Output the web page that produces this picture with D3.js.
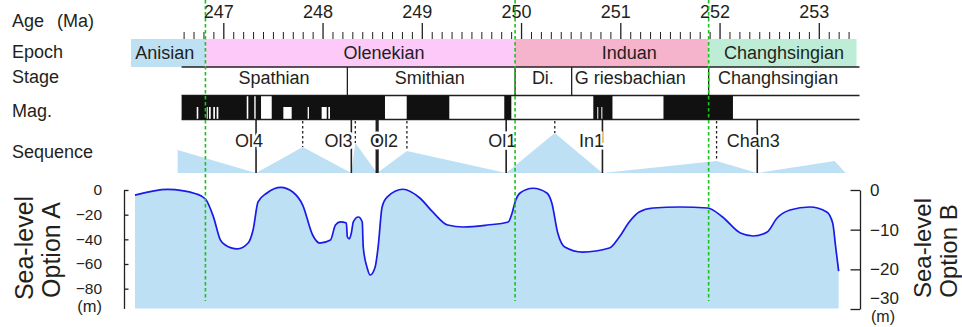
<!DOCTYPE html>
<html>
<head>
<meta charset="utf-8">
<script src="https://cdn.jsdelivr.net/npm/d3@7"></script>
<style>
  html, body { margin: 0; padding: 0; background: #fff; }
  svg { display: block; font-family: "Liberation Sans", Arial, Helvetica, sans-serif; }
</style>
</head>
<body>
<svg id="chart" width="962" height="327"></svg>
<script>
// ---- Time scale (Ma) ----
const ageMajorTicks = [247, 248, 249, 250, 251, 252, 253];
const ageMinorTicks = d3.range(2466, 2534).map(d => d / 10).filter(d => !Number.isInteger(d));

// ---- Epoch / stage bands ----
const epochNames  = ["Anisian", "Olenekian", "Induan", "Changhsingian"];
const epochStart  = [246.07, 246.82, 249.94, 251.89];
const epochEnd    = [246.82, 249.94, 251.89, 253.38];
const epochLabelAt = [246.41, 248.62, 251.09, 252.65];
const epochColors = ["#bde0f2", "#fdc9f8", "#f5b4cb", "#bdedd6"];

const stageNames  = ["Spathian", "Smithian", "Di.", "G riesbachian", "Changhsingian"];
const stageBounds = [248.25, 249.94, 250.51, 251.89];
const stageLabelAt = [247.51, 249.08, 250.22, 251.10, 252.59];
const columnExtent = [246.58, 253.41];

// ---- Magnetostratigraphy: normal polarity chrons and short reversed events ----
const normalChrons = [
  [246.58, 247.236], [247.252, 247.312], [247.326, 247.380], [247.488, 248.629],
  [248.848, 249.277], [249.831, 249.902], [250.728, 250.921], [251.435, 252.135]
];
const shortReversals = [
  [246.732, 246.748], [246.833, 246.843], [246.856, 246.873], [246.899, 246.916],
  [246.933, 246.950], [247.605, 247.689], [247.850, 247.863], [247.991, 248.042],
  [248.058, 248.075], [250.768, 250.775], [250.809, 250.816]
];

// ---- Sequence stratigraphy (relative accommodation triangles) ----
const seqAge = [246.54, 247.33, 247.80, 248.29, 248.33, 248.55, 248.85, 249.85, 250.34, 250.82, 251.97, 252.38, 253.16, 253.27];
const seqAmp = [0.575, 0, 0.65, 0, 0.75, 0, 0.55, 0, 1.0, 0, 0.30, 0, 0.30, 0];
const seqBoundaries = [247.33, 248.29, 249.85, 250.82, 252.38];
const seqMajorBoundary = [248.55];
const floodingSurfaces = [247.80, 248.33, 248.85, 250.34, 251.97];
const seqNames = ["Ol4", "Ol3", "Ol2", "Ol1", "In1", "Chan3"];
const seqLabelAt = [247.26, 248.16, 248.62, 249.81, 250.71, 252.34];

// ---- Epoch boundaries (dashed guides) ----
const guideAges = [246.82, 249.94, 251.89];

// ---- Sea-level curve (Option A, m) ----
const seaAge = [246.11, 246.44, 246.73, 246.82, 246.90, 246.97, 247.02, 247.14, 247.25, 247.30,
  247.35, 247.44, 247.58, 247.70, 247.80, 247.90, 247.97, 248.08, 248.13, 248.18,
  248.24, 248.25, 248.27, 248.29, 248.31, 248.36, 248.40, 248.41, 248.45, 248.48,
  248.53, 248.56, 248.60, 248.65, 248.81, 248.98, 249.11, 249.26, 249.42, 249.66,
  249.87, 249.91, 249.94, 249.99, 250.12, 250.26, 250.31, 250.37, 250.44, 250.62,
  250.89, 250.99, 251.09, 251.19, 251.33, 251.60, 251.88, 252.03, 252.21, 252.34,
  252.48, 252.58, 252.71, 252.91, 253.08, 253.14, 253.17, 253.20];
const seaLevelA = [-4.1, 0.5, -3.2, -7.3, -21.6, -40.5, -44.6, -47.8, -43.0, -32.4,
  -9.7, -2.4, 2.2, -1.6, -12.2, -36.5, -43.0, -40.5, -28.4, -25.9,
  -26.8, -38.1, -39.7, -34.9, -25.9, -21.9, -25.9, -46.2, -63.2, -68.9,
  -62.4, -46.2, -13.8, -5.7, 0.6, -6.5, -17.8, -28.4, -30.0, -28.4,
  -25.9, -18.6, -9.7, -2.4, 1.4, -2.4, -10.5, -34.9, -46.2, -50.3,
  -47.0, -38.1, -25.9, -17.8, -14.6, -13.8, -14.6, -21.9, -34.9, -37.3,
  -34.1, -22.7, -16.2, -13.8, -17.8, -26.8, -46.2, -65.7];
const ticksA = [0, -20, -40, -60, -80];
const ticksB = [0, -10, -20, -30];

// ---- Layout ----
const ink = "#231f20";
const svg = d3.select("#chart");
svg.append("rect").attr("width", 962).attr("height", 327).attr("fill", "#fff");

const x = d3.scaleLinear().domain([247, 253]).range([223.3, 818.8]);
const yA = d3.scaleLinear().domain([0, -96]).range([190, 308.4]);
const yB = d3.scaleLinear().domain([0, -30]).range([190, 309]);
const ySeq = d3.scaleLinear().domain([0, 1]).range([173, 133]);

const band = { top: 39, mid: 67, magTop: 95.5, magBot: 119.5 };

// Row titles
const titles = svg.append("g").attr("fill", ink).attr("font-size", 18);
const ageTitle = titles.append("text").attr("x", 12).attr("y", 27);
ageTitle.append("tspan").text("Age");
ageTitle.append("tspan").attr("x", 57).text("(Ma)");
titles.append("text").attr("x", 12).attr("y", 58).text("Epoch");
titles.append("text").attr("x", 12).attr("y", 83).text("Stage");
titles.append("text").attr("x", 12).attr("y", 117).text("Mag.");
titles.append("text").attr("x", 12).attr("y", 158).text("Sequence");

// Age axis
const axMajor = svg.append("g").attr("transform", `translate(0,${band.top})`)
  .call(d3.axisTop(x).tickValues(ageMajorTicks).tickSize(16).tickPadding(5).tickFormat(d3.format("d")));
axMajor.select(".domain").remove();
axMajor.selectAll("line").attr("stroke", ink).attr("stroke-width", 1.3);
axMajor.selectAll("text").attr("font-size", 18).attr("fill", ink).attr("font-family", null).attr("x", -5);
const axMinor = svg.append("g").attr("transform", `translate(0,${band.top})`)
  .call(d3.axisTop(x).tickValues(ageMinorTicks).tickSize(7).tickFormat(""));
axMinor.select(".domain").remove();
axMinor.selectAll("line").attr("stroke", ink).attr("stroke-width", 1);

// Epoch bands
const epochs = epochNames.map((n, i) => ({ name: n, s: epochStart[i], e: epochEnd[i], at: epochLabelAt[i], c: epochColors[i] }));
svg.append("g").selectAll("rect").data(epochs).join("rect")
  .attr("x", d => x(d.s)).attr("width", d => x(d.e) - x(d.s))
  .attr("y", band.top).attr("height", band.mid - band.top)
  .attr("fill", d => d.c);
svg.append("g").attr("font-size", 18).attr("fill", ink).attr("text-anchor", "middle")
  .selectAll("text").data(epochs).join("text")
  .attr("x", d => x(d.at)).attr("y", 59).text(d => d.name);

// Stage row
svg.append("g").attr("stroke", ink).attr("stroke-width", 1.3)
  .selectAll("line").data([band.mid, band.magTop, band.magBot]).join("line")
  .attr("x1", x(columnExtent[0])).attr("x2", x(columnExtent[1]))
  .attr("y1", d => d).attr("y2", d => d);
svg.append("g").attr("stroke", ink).attr("stroke-width", 1.3)
  .selectAll("line").data(stageBounds).join("line")
  .attr("x1", d => x(d)).attr("x2", d => x(d)).attr("y1", band.mid).attr("y2", band.magTop);
svg.append("g").attr("font-size", 18).attr("fill", ink).attr("text-anchor", "middle")
  .selectAll("text").data(stageNames).join("text")
  .attr("x", (d, i) => x(stageLabelAt[i])).attr("y", 84).text(d => d);

// Magnetic polarity
svg.append("g").selectAll("rect").data(normalChrons).join("rect")
  .attr("x", d => x(d[0])).attr("width", d => x(d[1]) - x(d[0]))
  .attr("y", band.magTop).attr("height", band.magBot - band.magTop)
  .attr("fill", "#111");
svg.append("g").selectAll("rect").data(shortReversals).join("rect")
  .attr("x", d => x(d[0])).attr("width", d => Math.max(1, x(d[1]) - x(d[0])))
  .attr("y", 107).attr("height", band.magBot - 107 - 0.7)
  .attr("fill", "#fff");

// Sequence triangles
const seqPts = seqAge.map((a, i) => [x(a), ySeq(seqAmp[i])]);
const poly = [[x(seqAge[0]), ySeq(0)], ...seqPts];
svg.append("path").attr("d", d3.line()(poly) + "Z").attr("fill", "#bde0f5");

// Sequence boundaries and maximum flooding surfaces
const seqG = svg.append("g").attr("stroke", ink);
seqG.selectAll(".sb").data(seqBoundaries).join("line").attr("class", "sb")
  .attr("x1", d => x(d)).attr("x2", d => x(d)).attr("y1", 120).attr("y2", ySeq(0))
  .attr("stroke-width", 1.6);
seqG.selectAll(".msb").data(seqMajorBoundary).join("line").attr("class", "msb")
  .attr("x1", d => x(d)).attr("x2", d => x(d)).attr("y1", 120).attr("y2", ySeq(0))
  .attr("stroke-width", 3.2);
seqG.selectAll(".mfs").data(floodingSurfaces).join("line").attr("class", "mfs")
  .attr("x1", d => x(d)).attr("x2", d => x(d)).attr("y1", 121)
  .attr("y2", d => ySeq(seqAmp[seqAge.indexOf(d)]))
  .attr("stroke-width", 1.3).attr("stroke-dasharray", "2.5,2.5");
svg.append("g").attr("font-size", 18).attr("fill", ink).attr("text-anchor", "middle")
  .selectAll("text").data(seqNames).join("text")
  .attr("x", (d, i) => x(seqLabelAt[i])).attr("y", 146.5)
  .attr("stroke", "#fff").attr("stroke-width", 5).attr("paint-order", "stroke")
  .text(d => d);

// Sea-level curve
const sea = seaAge.map((a, i) => ({ a, v: seaLevelA[i] }));
svg.append("path").datum(sea)
  .attr("d", d3.area().x(d => x(d.a)).y0(yA(-96)).y1(d => yA(d.v)).curve(d3.curveMonotoneX))
  .attr("fill", "#bde0f5");
svg.append("path").datum(sea)
  .attr("d", d3.line().x(d => x(d.a)).y(d => yA(d.v)).curve(d3.curveMonotoneX))
  .attr("fill", "none").attr("stroke", "#1a1ae6").attr("stroke-width", 1.7);

// Left axis (Option A)
const axA = svg.append("g").attr("transform", "translate(124,0)")
  .call(d3.axisLeft(yA).tickValues(ticksA).tickSizeInner(-4.5).tickSizeOuter(0).tickPadding(22).tickFormat(d3.format("d")));
axA.selectAll("line, path").attr("stroke", ink).attr("stroke-width", 1.3);
axA.selectAll("text").attr("font-size", 15.5).attr("fill", ink).attr("font-family", null);
svg.append("text").attr("x", 102).attr("y", 312).attr("text-anchor", "end")
  .attr("font-size", 16.5).attr("fill", ink).text("(m)");

// Right axis (Option B); the bottom label sits just above its tick to leave room for the unit
const axB = svg.append("g").attr("transform", "translate(860,0)")
  .call(d3.axisRight(yB).tickValues(ticksB).tickSizeInner(-9.5).tickSizeOuter(0).tickPadding(10).tickFormat(d3.format("d")));
axB.selectAll("line, path").attr("stroke", ink).attr("stroke-width", 1.3);
axB.selectAll("text").attr("font-size", 17).attr("fill", ink).attr("font-family", null);
axB.selectAll(".tick").filter(d => d === ticksB[ticksB.length - 1]).select("text").attr("dy", "-0.3em");
svg.append("text").attr("x", 871).attr("y", 322).attr("font-size", 16).attr("fill", ink).text("(m)");

// Axis titles
const rot = (tx, ty, txt, size) => svg.append("text")
  .attr("transform", `translate(${tx},${ty}) rotate(-90)`)
  .attr("text-anchor", "middle").attr("font-size", size).attr("fill", ink).text(txt);
rot(33, 248, "Sea-level", 25);
rot(60, 250, "Option A", 25);
rot(931, 248, "Sea-level", 24);
rot(957, 251, "Option B", 24);

// Epoch boundary guides
svg.append("g").selectAll("line").data(guideAges).join("line")
  .attr("x1", d => x(d)).attr("x2", d => x(d)).attr("y1", 0).attr("y2", 301)
  .attr("stroke", "#1fbf1f").attr("stroke-width", 1.6).attr("stroke-dasharray", "3.5,2.5");
</script>
</body>
</html>
